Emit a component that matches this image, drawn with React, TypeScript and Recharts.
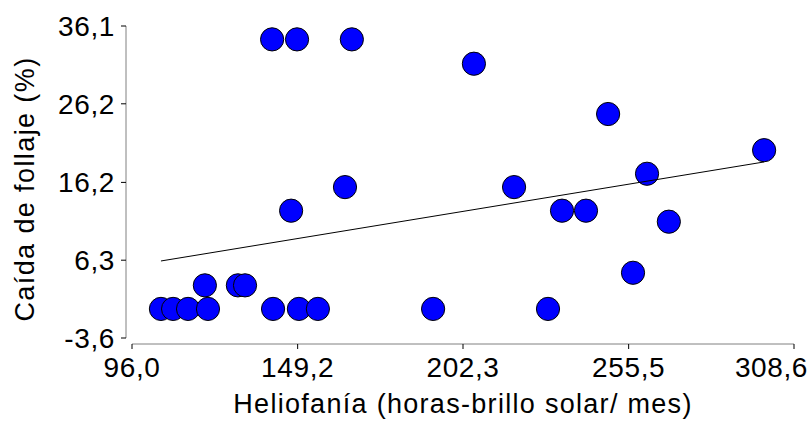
import { Scatter, ScatterChart, XAxis, YAxis } from "recharts";

const helioX = [
  141.0, 149.0, 166.6, 164.4, 147.1, 205.8, 248.9, 299.0, 261.4, 218.7, 234.1, 241.8, 268.4,
  256.9, 105.3, 109.2, 114.0, 120.4, 119.4, 130.0, 132.3, 141.3, 149.6, 155.7, 192.7, 229.6,
];
const caidaY = [
  34.4, 34.4, 34.4, 15.6, 12.6, 31.3, 24.9, 20.3, 17.3, 15.6, 12.6, 12.6, 11.2,
  4.7, 0.1, 0.1, 0.1, 0.1, 3.1, 3.1, 3.1, 0.1, 0.1, 0.1, 0.1, 0.1,
];
const fitX = [105.3, 299.0];
const fitY = [6.2, 18.8];

const xTicks = [96.0, 149.2, 202.3, 255.5, 308.6];
const yTicks = [-3.6, 6.3, 16.2, 26.2, 36.1];

const FONT = "'Liberation Sans', Arial, sans-serif";

const points = helioX.map((x, i) => ({ x, y: caidaY[i] }));
const fitLine = fitX.map((x, i) => ({ x, y: fitY[i] }));

const fmt = (v: number) => v.toFixed(1).replace(".", ",");

function Dot(props: any) {
  const { cx, cy } = props;
  return <circle cx={cx} cy={cy} r={11.6} fill="#0000ff" stroke="#000" strokeWidth={1} />;
}

// last label is pulled in so it stays inside the frame
function XTick({ x, y, payload, index }: any) {
  const last = index === xTicks.length - 1;
  return (
    <text
      x={last ? x + 14 : x}
      y={y}
      dy="0.71em"
      textAnchor={last ? "end" : "middle"}
      fontFamily={FONT}
      fontSize={28}
      letterSpacing={0.6}
      fill="#000"
    >
      {fmt(payload.value)}
    </text>
  );
}

function YTitle({ viewBox }: any) {
  const x = viewBox.x + 34;
  const y = viewBox.y + viewBox.height / 2 + 4;
  return (
    <text
      x={x}
      y={y}
      transform={`rotate(-90 ${x} ${y})`}
      textAnchor="middle"
      fontFamily={FONT}
      fontSize={27}
      letterSpacing={1.4}
      fill="#000"
    >
      Caída de follaje (%)
    </text>
  );
}

function XTitle({ viewBox }: any) {
  const x = viewBox.x + viewBox.width / 2;
  return (
    <text
      x={x}
      y={413}
      textAnchor="middle"
      fontFamily={FONT}
      fontSize={27}
      letterSpacing={1.3}
      fill="#000"
    >
      Heliofanía (horas-brillo solar/ mes)
    </text>
  );
}

export default function App() {
  const tickStyle = { fontFamily: FONT, fontSize: 28, fill: "#000", letterSpacing: 0.6 };
  return (
    <div style={{ position: "absolute", left: 0, top: 0, background: "#fff" }}>
      <ScatterChart width={812} height={421} margin={{ top: 26, right: 12, left: 0, bottom: 0 }}>
        <XAxis
          type="number"
          dataKey="x"
          domain={[96.0, 308.6]}
          ticks={xTicks}
          padding={{ left: 6, right: 6 }}
          height={77}
          tickSize={5}
          tickMargin={8}
          tick={<XTick />}
          axisLine={{ stroke: "#808080", strokeDasharray: "0 6 662 6" }}
          tickLine={{ stroke: "#000" }}
          label={<XTitle />}
          allowDataOverflow
        />
        <YAxis
          type="number"
          dataKey="y"
          domain={[-3.6, 36.1]}
          ticks={yTicks}
          tickFormatter={fmt}
          padding={{ top: 0, bottom: 6 }}
          width={126}
          tickSize={5}
          tickMargin={6}
          tick={tickStyle}
          axisLine={{ stroke: "#808080", strokeDasharray: "312 6" }}
          tickLine={{ stroke: "#000" }}
          label={<YTitle />}
          allowDataOverflow
        />
        <Scatter data={points} shape={<Dot />} isAnimationActive={false} />
        <Scatter
          data={fitLine}
          line={{ stroke: "#000", strokeWidth: 1 }}
          shape={() => <g />}
          isAnimationActive={false}
        />
      </ScatterChart>
    </div>
  );
}
